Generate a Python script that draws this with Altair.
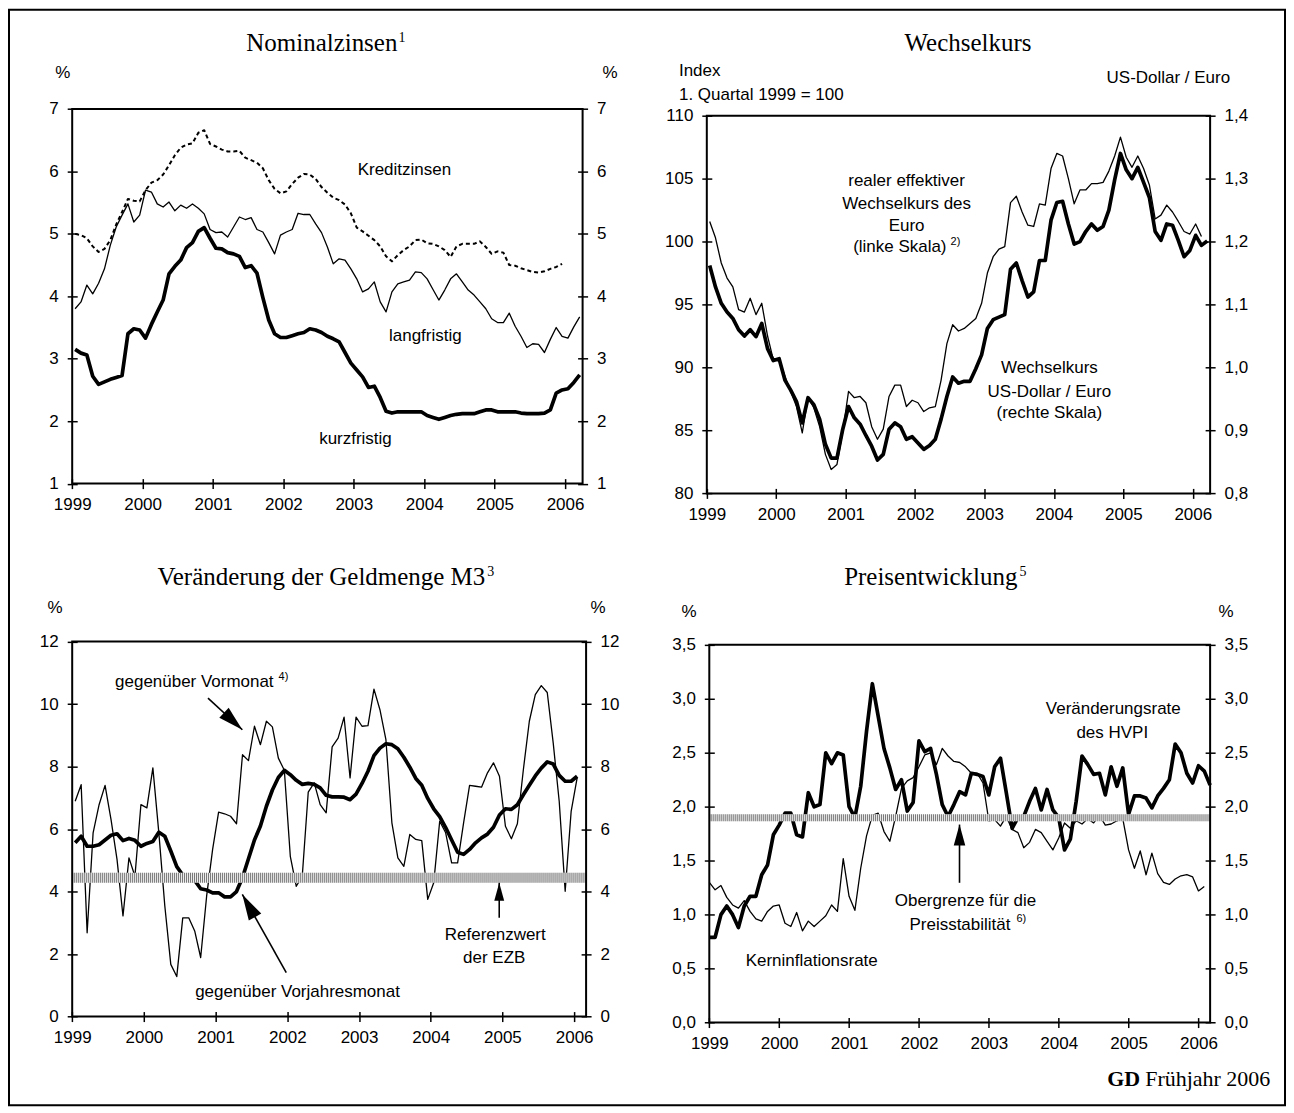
import altair as alt
import pandas as pd

SANS = "Liberation Sans"
SERIF = "Liberation Serif"

# ------------------------------------------------------------------ data
YEARS = [1999, 2000, 2001, 2002, 2003, 2004, 2005, 2006]

# Nominalzinsen (monthly, Jan 1999 - Mar 2006)
kurzfristig = [3.15, 3.09, 3.06, 2.72, 2.59, 2.63, 2.67, 2.70, 2.73, 3.40, 3.48, 3.46,
               3.33, 3.55, 3.75, 3.94, 4.36, 4.48, 4.58, 4.78, 4.86, 5.04, 5.10, 4.93,
               4.77, 4.76, 4.70, 4.68, 4.64, 4.46, 4.49, 4.37, 3.98, 3.62, 3.40, 3.34,
               3.34, 3.37, 3.40, 3.42, 3.48, 3.46, 3.42, 3.36, 3.32, 3.27, 3.10, 2.93,
               2.82, 2.71, 2.54, 2.56, 2.38, 2.16, 2.13, 2.15, 2.15, 2.15, 2.15, 2.15,
               2.09, 2.06, 2.03, 2.06, 2.09, 2.11, 2.12, 2.12, 2.12, 2.15, 2.18, 2.18,
               2.15, 2.15, 2.15, 2.15, 2.13, 2.12, 2.12, 2.12, 2.13, 2.18, 2.45, 2.50,
               2.52, 2.62, 2.74]
langfristig = [3.80, 3.91, 4.18, 4.04, 4.21, 4.44, 4.82, 5.11, 5.30, 5.48, 5.19, 5.30,
               5.70, 5.67, 5.48, 5.43, 5.51, 5.37, 5.46, 5.41, 5.48, 5.41, 5.32, 5.07,
               5.02, 5.03, 4.95, 5.11, 5.27, 5.23, 5.26, 5.07, 5.03, 4.86, 4.68, 4.98,
               5.03, 5.07, 5.33, 5.31, 5.31, 5.16, 5.02, 4.79, 4.52, 4.60, 4.58, 4.44,
               4.28, 4.07, 4.12, 4.23, 3.91, 3.75, 4.07, 4.20, 4.23, 4.26, 4.39, 4.38,
               4.28, 4.11, 3.94, 4.10, 4.28, 4.36, 4.23, 4.10, 4.02, 3.91, 3.80, 3.64,
               3.58, 3.58, 3.73, 3.52, 3.36, 3.18, 3.24, 3.23, 3.10, 3.31, 3.50, 3.36,
               3.33, 3.51, 3.67]
kreditzinsen = [5.00, 4.98, 4.93, 4.80, 4.71, 4.76, 4.90, 5.15, 5.35, 5.56, 5.53, 5.52,
                5.70, 5.82, 5.86, 5.95, 6.10, 6.26, 6.38, 6.43, 6.45, 6.62, 6.66, 6.44,
                6.40, 6.35, 6.32, 6.32, 6.33, 6.22, 6.18, 6.14, 6.05, 5.86, 5.72, 5.65,
                5.68, 5.80, 5.90, 5.96, 5.95, 5.88, 5.75, 5.66, 5.58, 5.54, 5.47, 5.33,
                5.10, 5.04, 4.97, 4.90, 4.80, 4.64, 4.56, 4.66, 4.74, 4.80, 4.90, 4.91,
                4.85, 4.84, 4.80, 4.74, 4.63, 4.80, 4.84, 4.84, 4.84, 4.88, 4.79, 4.68,
                4.72, 4.70, 4.50, 4.49, 4.45, 4.42, 4.39, 4.38, 4.40, 4.44, 4.47, 4.52]

# Wechselkurs
realer_effektiver = [101.6, 100.3, 98.3, 97.1, 96.4, 94.6, 94.4, 95.5, 94.2, 95.1, 92.5, 90.6,
                     90.7, 89.3, 88.1, 86.9, 84.8, 87.6, 86.8, 85.3, 83.1, 81.9, 82.3, 84.9,
                     88.1, 87.6, 87.7, 87.2, 85.3, 84.3, 85.1, 87.7, 88.6, 88.6, 86.9, 87.4,
                     87.2, 86.5, 86.8, 86.9, 89.0, 91.9, 93.4, 92.9, 93.1, 93.5, 93.9, 95.1,
                     97.5, 98.8, 99.4, 99.6, 103.1, 103.6, 102.35, 101.3, 101.2, 103.0, 102.9, 105.8,
                     107.0, 106.8, 105.0, 103.0, 104.1, 104.1, 104.6, 104.6, 104.7, 105.6, 106.8, 108.3,
                     106.7, 105.9, 106.8, 105.8, 104.5, 101.8, 102.1, 102.9, 102.35, 101.6, 100.8, 100.6,
                     101.4, 100.4]
usd_eur = [1.162, 1.128, 1.102, 1.088, 1.078, 1.060, 1.050, 1.060, 1.049, 1.070, 1.030, 1.011,
           1.014, 0.980, 0.964, 0.946, 0.912, 0.952, 0.941, 0.918, 0.878, 0.856, 0.856, 0.902,
           0.938, 0.920, 0.910, 0.892, 0.875, 0.853, 0.862, 0.902, 0.912, 0.906, 0.886, 0.890,
           0.880, 0.870, 0.876, 0.886, 0.918, 0.954, 0.985, 0.975, 0.978, 0.978, 0.998, 1.020,
           1.062, 1.076, 1.080, 1.084, 1.156, 1.166, 1.138, 1.112, 1.120, 1.170, 1.170, 1.234,
           1.262, 1.264, 1.228, 1.196, 1.200, 1.216, 1.228, 1.218, 1.224, 1.250, 1.298, 1.340,
           1.314, 1.300, 1.318, 1.294, 1.270, 1.216, 1.202, 1.228, 1.226, 1.202, 1.176, 1.186,
           1.210, 1.194, 1.201]

# Geldmenge M3
m3_vorjahresmonat = [5.56, 5.77, 5.45, 5.45, 5.50, 5.65, 5.80, 5.85, 5.63, 5.70, 5.64, 5.45,
                     5.54, 5.60, 5.90, 5.77, 5.30, 4.80, 4.53, 4.36, 4.36, 4.09, 4.05, 3.96,
                     3.96, 3.83, 3.83, 4.00, 4.45, 5.05, 5.65, 6.10, 6.73, 7.25, 7.65, 7.88,
                     7.74, 7.56, 7.43, 7.46, 7.43, 7.32, 7.08, 7.03, 7.03, 7.02, 6.94, 7.12,
                     7.46, 7.85, 8.35, 8.59, 8.73, 8.70, 8.57, 8.30, 7.98, 7.62, 7.40, 6.98,
                     6.65, 6.40, 6.05, 5.65, 5.26, 5.19, 5.35, 5.56, 5.72, 5.84, 6.06, 6.45,
                     6.65, 6.63, 6.78, 7.10, 7.40, 7.70, 7.95, 8.15, 8.08, 7.72, 7.53, 7.53,
                     7.69]
m3_vormonat = [6.89, 7.42, 2.68, 5.88, 6.78, 7.40, 6.30, 5.03, 3.22, 5.08, 4.49, 6.78,
               6.68, 7.96, 5.88, 3.54, 1.67, 1.28, 3.16, 3.16, 2.74, 1.89, 3.86, 5.35,
               6.54, 6.49, 6.41, 6.17, 8.38, 8.19, 9.29, 8.70, 9.45, 9.27, 8.27, 7.88,
               5.13, 4.17, 4.49, 7.18, 7.48, 6.78, 6.52, 8.63, 8.91, 9.58, 7.64, 9.58,
               9.29, 9.31, 10.48, 9.82, 8.86, 6.20, 5.08, 4.81, 5.83, 5.67, 5.63, 3.75,
               4.28, 6.25, 5.88, 4.92, 4.92, 6.20, 7.40, 7.37, 7.34, 7.80, 8.12, 7.69,
               6.09, 5.69, 6.17, 7.90, 9.45, 10.30, 10.59, 10.37, 8.75, 6.89, 4.01, 6.57,
               7.64]
referenzwert_band = [4.28, 4.60]

# Preisentwicklung
hvpi = [0.79, 0.79, 1.00, 1.08, 1.00, 0.88, 1.08, 1.17, 1.17, 1.37, 1.46, 1.74,
        1.83, 1.94, 1.94, 1.74, 1.72, 2.13, 2.00, 2.02, 2.50, 2.40, 2.50, 2.48,
        2.00, 1.90, 2.19, 2.70, 3.14, 2.84, 2.54, 2.36, 2.16, 2.25, 1.96, 2.04,
        2.61, 2.51, 2.54, 2.30, 2.02, 1.91, 2.02, 2.14, 2.11, 2.31, 2.30, 2.28,
        2.11, 2.37, 2.45, 2.13, 1.80, 1.90, 1.91, 2.05, 2.17, 1.97, 2.16, 1.97,
        1.90, 1.60, 1.70, 2.05, 2.47, 2.39, 2.30, 2.31, 2.11, 2.37, 2.19, 2.36,
        1.93, 2.10, 2.10, 2.08, 1.99, 2.10, 2.17, 2.25, 2.58, 2.50, 2.31, 2.22,
        2.38, 2.33, 2.20]
kerninflation = [1.30, 1.23, 1.27, 1.16, 1.09, 1.06, 1.13, 1.03, 0.96, 0.94, 1.03, 1.08,
                 1.09, 0.92, 0.89, 1.02, 0.85, 0.94, 0.89, 0.94, 0.99, 1.09, 1.03, 1.52,
                 1.17, 1.04, 1.43, 1.73, 1.92, 1.94, 1.77, 1.68, 1.91, 2.17, 2.24, 2.27,
                 2.37, 2.48, 2.50, 2.39, 2.54, 2.47, 2.42, 2.41, 2.37, 2.31, 2.31, 2.22,
                 1.87, 1.88, 1.82, 1.91, 1.79, 1.76, 1.62, 1.67, 1.79, 1.76, 1.68, 1.60,
                 1.71, 1.85, 1.80, 1.87, 1.84, 1.89, 1.85, 1.92, 1.83, 1.84, 1.87, 1.89,
                 1.60, 1.43, 1.59, 1.37, 1.57, 1.38, 1.30, 1.28, 1.33, 1.36, 1.37, 1.35,
                 1.22, 1.26]
obergrenze_band = [1.865, 1.93]

# ------------------------------------------------------------------ layout (pixels in the view)
W, H = 1278, 1097
P = {
    "p1": dict(x=[63.3, 574.5], y=[474.5, 99.3], xdom=[1999, 2006.25], ydom=[1, 7]),
    "p2": dict(x=[698.9, 1203.0], y=[484.3, 106.0], xdom=[1999, 2006.25], ydom=[80, 110]),
    "p3": dict(x=[63.3, 578.0], y=[1008.3, 632.7], xdom=[1999, 2006 + 2 / 12], ydom=[0, 12]),
    "p4": dict(x=[701.4, 1203.0], y=[1014.3, 636.0], xdom=[1999, 2006 + 2 / 12], ydom=[0, 3.5]),
}
COMMA1 = "replace(format(datum.value, '.1f'), '.', ',')"


def monthly(values, offset):
    return pd.DataFrame({"t": [1999 + (i + offset) / 12 for i in range(len(values))], "v": values})


def xscale(p):
    return alt.Scale(domain=P[p]["xdom"], range=P[p]["x"], nice=False, zero=False)


def yscale(p, dom=None):
    return alt.Scale(domain=dom or P[p]["ydom"], range=P[p]["y"], nice=False, zero=False)


def ax_bottom(p):
    return alt.Axis(orient="bottom", offset=P[p]["y"][0] - 5 - H, values=YEARS, format="d",
                    tickSize=10, tickWidth=1.5, domain=False, grid=False, labelPadding=8,
                    labelFlush=False, labelOverlap=False)


def ax_side(p, side, values, expr=None):
    if side == "left":
        off = -(P[p]["x"][0] + 5)
    else:
        off = P[p]["x"][1] - 5 - W
    kw = dict(orient=side, offset=off, values=values, tickSize=10, tickWidth=1.5, domain=False,
              grid=False, labelPadding=9, labelFlush=False, labelOverlap=False)
    if expr:
        kw["labelExpr"] = expr
    else:
        kw["format"] = "d"
    return alt.Axis(**kw)


def line(p, df, width, dash=None, ydom=None, xaxis=None, yaxis=None):
    mk = dict(color="black", strokeWidth=width, strokeJoin="round")
    if dash:
        mk["strokeDash"] = dash
    return alt.Chart(df).mark_line(**mk).encode(
        x=alt.X("t:Q", scale=xscale(p), axis=xaxis, title=None),
        y=alt.Y("v:Q", scale=yscale(p, ydom), axis=yaxis, title=None),
    )


def frame(p):
    df = pd.DataFrame({"x0": [P[p]["xdom"][0]], "x1": [P[p]["xdom"][1]],
                       "y0": [P[p]["ydom"][0]], "y1": [P[p]["ydom"][1]]})
    return alt.Chart(df).mark_rect(fillOpacity=0, stroke="black", strokeWidth=2).encode(
        x=alt.X("x0:Q", scale=xscale(p), axis=None, title=None), x2="x1:Q",
        y=alt.Y("y0:Q", scale=yscale(p), axis=None, title=None), y2="y1:Q")


def band(p, lims):
    """Stippled band: light base plus a finely dashed overlay of the same height."""
    df = pd.DataFrame({"x0": [P[p]["xdom"][0]], "x1": [P[p]["xdom"][1]],
                       "y0": [lims[0]], "y1": [lims[1]],
                       "yc": [(lims[0] + lims[1]) / 2]})
    ppu = (P[p]["y"][0] - P[p]["y"][1]) / (P[p]["ydom"][1] - P[p]["ydom"][0])
    thick = (lims[1] - lims[0]) * ppu
    base = alt.Chart(df).mark_rect(fill="#ececec").encode(
        x=alt.X("x0:Q", scale=xscale(p), axis=None, title=None), x2="x1:Q",
        y=alt.Y("y0:Q", scale=yscale(p), axis=None, title=None), y2="y1:Q")
    dots = alt.Chart(df).mark_rule(color="#7a7a7a", strokeWidth=thick, strokeDash=[1, 1]).encode(
        x=alt.X("x0:Q", scale=xscale(p), axis=None, title=None), x2="x1:Q",
        y=alt.Y("yc:Q", scale=yscale(p), axis=None, title=None))
    return [base, dots]


ONE = pd.DataFrame({"k": [0]})


def label(text, x, y, size=17, align="center", font=SANS, baseline="middle", weight="normal"):
    return alt.Chart(ONE).mark_text(text=text, align=align, baseline=baseline, font=font,
                                    fontSize=size, fontWeight=weight, color="black").encode(
        x=alt.value(x), y=alt.value(y))


ARROW = "M0,0L0.55,2L-0.55,2Z"


def arrow(x0, y0, x1, y1, angle, length):
    shaft = alt.Chart(ONE).mark_rule(color="black", strokeWidth=1.6).encode(
        x=alt.value(x0), y=alt.value(y0), x2=alt.value(x1), y2=alt.value(y1))
    head = alt.Chart(ONE).mark_point(shape=ARROW, filled=True, color="black", opacity=1,
                                     size=length * length, angle=angle, strokeWidth=0).encode(
        x=alt.value(x1), y=alt.value(y1))
    return [shaft, head]


layers = []

# ---------------- panel 1: Nominalzinsen
layers += [
    line("p1", monthly(kreditzinsen, 0.5), 2.0, dash=[4, 3]),
    line("p1", monthly(langfristig, 0.5), 1.3, yaxis=ax_side("p1", "right", [1, 2, 3, 4, 5, 6, 7])),
    line("p1", monthly(kurzfristig, 0.5), 3.7, xaxis=ax_bottom("p1"),
         yaxis=ax_side("p1", "left", [1, 2, 3, 4, 5, 6, 7])),
    frame("p1"),
    label("Nominalzinsen", 389, 41, size=25, align="right", font=SERIF, baseline="alphabetic"),
    label("1", 390, 32, size=14, align="left", font=SERIF, baseline="alphabetic"),
    label("%", 54, 63), label("%", 602, 63),
    label("Kreditzinsen", 396, 160), label("langfristig", 417, 327), label("kurzfristig", 347, 430),
]

# ---------------- panel 2: Wechselkurs
layers += [
    line("p2", monthly(realer_effektiver, 0.5), 1.3, xaxis=ax_bottom("p2"),
         yaxis=ax_side("p2", "left", [80, 85, 90, 95, 100, 105, 110])),
    line("p2", monthly(usd_eur, 0.5), 3.7, ydom=[0.8, 1.4],
         yaxis=ax_side("p2", "right", [0.8, 0.9, 1.0, 1.1, 1.2, 1.3, 1.4], expr=COMMA1)),
    frame("p2"),
    label("Wechselkurs", 1024, 41, size=25, align="right", font=SERIF, baseline="alphabetic"),
    label("Index", 671, 61, align="left"),
    label("1. Quartal 1999 = 100", 671, 85, align="left"),
    label("US-Dollar / Euro", 1223, 68, align="right"),
    label("realer effektiver", 899, 171), label("Wechselkurs des", 899, 194),
    label("Euro", 899, 216), label("(linke Skala)", 939, 238, align="right"),
    label("2)", 943, 233, size=11, align="left"),
    label("Wechselkurs", 1042, 359), label("US-Dollar / Euro", 1042, 383),
    label("(rechte Skala)", 1042, 404),
]

# ---------------- panel 3: Geldmenge M3
layers += [
    line("p3", monthly(m3_vormonat, 0.5), 1.3, yaxis=ax_side("p3", "right", [0, 2, 4, 6, 8, 10, 12])),
    line("p3", monthly(m3_vorjahresmonat, 0.5), 3.7, xaxis=ax_bottom("p3"),
         yaxis=ax_side("p3", "left", [0, 2, 4, 6, 8, 10, 12])),
]
layers += band("p3", referenzwert_band)
layers += [
    frame("p3"),
    label("Veränderung der Geldmenge M3", 477, 576, size=25, align="right", font=SERIF,
          baseline="alphabetic"),
    label("3", 479, 567, size=14, align="left", font=SERIF, baseline="alphabetic"),
    label("%", 46, 599), label("%", 590, 599),
    label("gegenüber Vormonat", 265, 673, align="right"),
    label("4)", 270, 668, size=11, align="left"),
    label("gegenüber Vorjahresmonat", 289, 984),
    label("Referenzwert", 487, 927), label("der EZB", 486, 950),
]
layers += arrow(199.3, 689.3, 233.7, 721.0, 132.7, 25)
layers += arrow(277.7, 964.3, 233.7, 886.0, 330.7, 26)
layers += arrow(491.0, 909.3, 491.0, 874.3, 0, 18)

# ---------------- panel 4: Preisentwicklung
layers += [
    line("p4", monthly(kerninflation, 0), 1.3,
         yaxis=ax_side("p4", "right", [0, 0.5, 1, 1.5, 2, 2.5, 3, 3.5], expr=COMMA1)),
    line("p4", monthly(hvpi, 0), 3.7, xaxis=ax_bottom("p4"),
         yaxis=ax_side("p4", "left", [0, 0.5, 1, 1.5, 2, 2.5, 3, 3.5], expr=COMMA1)),
]
layers += band("p4", obergrenze_band)
layers += [
    frame("p4"),
    label("Preisentwicklung", 1010, 576, size=25, align="right", font=SERIF, baseline="alphabetic"),
    label("5", 1012, 567, size=14, align="left", font=SERIF, baseline="alphabetic"),
    label("%", 681, 603), label("%", 1219, 603),
    label("Veränderungsrate", 1106, 700), label("des HVPI", 1105, 724),
    label("Obergrenze für die", 958, 893),
    label("Preisstabilität", 1003, 917, align="right"),
    label("6)", 1009, 911, size=11, align="left"),
    label("Kerninflationsrate", 804, 953),
]
layers += arrow(952.0, 874.3, 952.0, 816.0, 0, 21)

# ---------------- footer
layers += [
    label("GD", 1133, 1078, size=22, align="right", font=SERIF, baseline="alphabetic", weight="bold"),
    label("Frühjahr 2006", 1138, 1078, size=22, align="left", font=SERIF, baseline="alphabetic"),
]

chart = alt.layer(*layers).resolve_scale(x="independent", y="independent").resolve_axis(
    x="independent", y="independent").properties(
    width=W, height=H, autosize=alt.AutoSizeParams(type="none"), padding=1,
    background="white").configure_view(stroke="black", strokeWidth=2).configure_axis(
    labelFont=SANS, labelFontSize=17, labelColor="black", tickColor="black")

chart.save("out.html", embed_options={"renderer": "svg", "actions": False})
